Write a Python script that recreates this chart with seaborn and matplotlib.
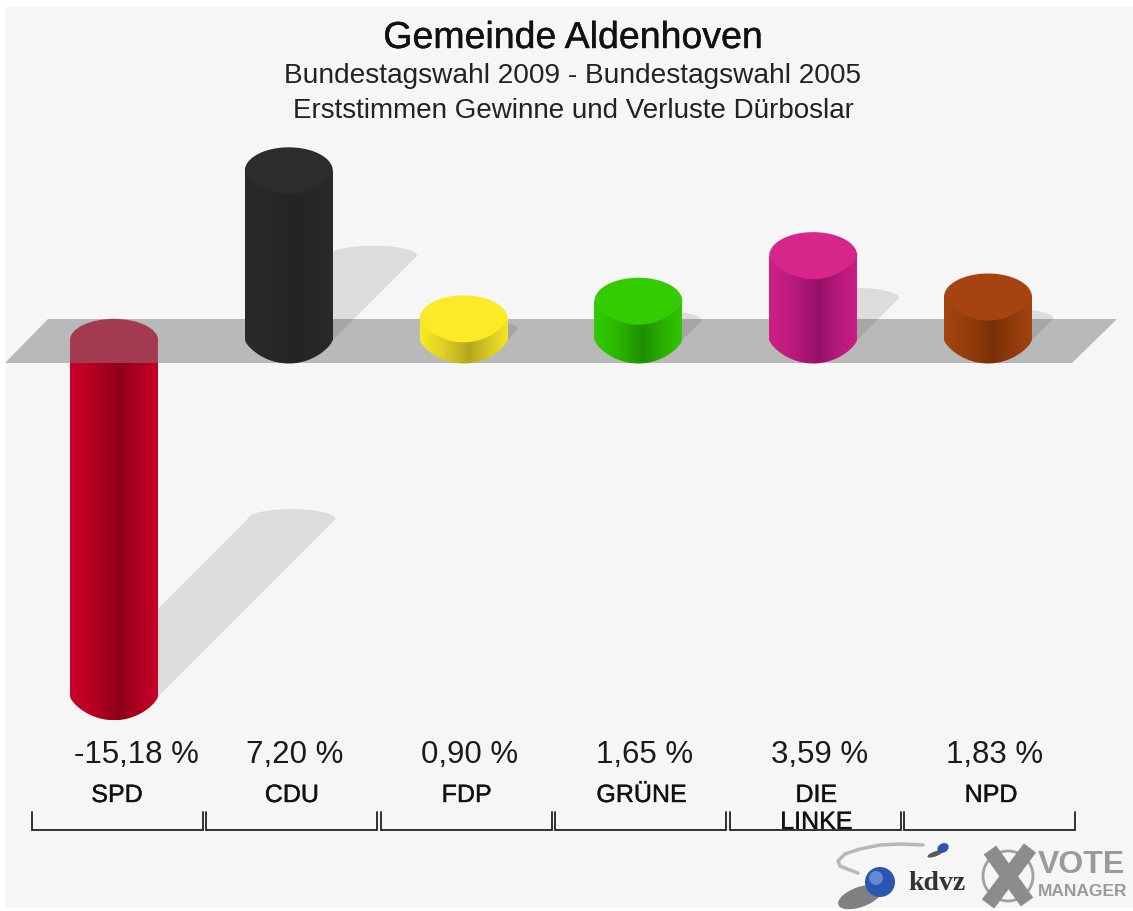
import numpy as np
import pandas as pd
import matplotlib
matplotlib.use('Agg')
import matplotlib.pyplot as plt
import matplotlib.patheffects as pe
from matplotlib.patches import Polygon, Ellipse, Rectangle, Circle
import seaborn as sns

parties = ['SPD', 'CDU', 'FDP', 'GRÜNE', 'DIE LINKE', 'NPD']
party_labels = ['SPD', 'CDU', 'FDP', 'GRÜNE', 'DIE\nLINKE', 'NPD']
values = [-15.18, 7.20, 0.90, 1.65, 3.59, 1.83]
value_labels = ['-15,18 %', '7,20 %', '0,90 %', '1,65 %', '3,59 %', '1,83 %']
label_offset = [22, 6, 6, 6, 6, 7]
cap_colors = ['#cc0028', '#2c2c2c', '#fbea28', '#33cc00', '#d6268c', '#a54410']
edge_colors = ['#cc0028', '#2a2a2a', '#f7ea28', '#33cc00', '#cf2088', '#a54410']
dark_colors = ['#8e0018', '#242424', '#b5a61c', '#1e9000', '#961068', '#7a3008']

W, H = 1133, 911
X0, STEP = 114.0, 174.8  # px of first bar, px per category
Y0, K = 340.0, 23.5  # px of zero line, px per percent
BAR_W = 88 / STEP
CAP = 1.0  # half height of the ellipse, in percent units


def px_x(p):
    return (p - X0) / STEP


def px_y(p):
    return (Y0 - p) / K


def gradient(edge, dark):
    pos = np.array([0, 0.25, 0.56, 0.8, 1])
    e = np.array(matplotlib.colors.to_rgb(edge))
    d = np.array(matplotlib.colors.to_rgb(dark))
    mix = np.array([0.0, 0.35, 1.0, 0.45, 0.08])
    t = np.linspace(0, 1, 200)
    m = np.interp(t, pos, mix)[:, None]
    return (e * (1 - m) + d * m)[None, :, :]


def lower_arc(center):
    # front edge of the cylinder, a bit more pointed than an ellipse
    u = np.linspace(-1, 1, 60)
    return np.column_stack([center + BAR_W / 2 * u, -CAP * (1 - u ** 2) ** 0.75])


sns.set_theme(style='white')
plt.rcParams['font.family'] = ['Liberation Sans', 'DejaVu Sans']
heavy = [pe.withStroke(linewidth=0.3, foreground='#222222')]

fig = plt.figure(figsize=(W / 100, H / 100), dpi=100, facecolor='white')
fig.patches.append(Rectangle((5 / W, 1 - 908 / H), 1 - 5 / W, (908 - 7) / H, transform=fig.transFigure,
                             facecolor='#f6f6f6', edgecolor='none', zorder=-10))
ax = fig.add_axes([0, 0, 1, 1])

df = pd.DataFrame({'party': parties, 'value': values})
sns.barplot(data=df, x='party', y='value', hue='party', palette=cap_colors, order=parties,
            hue_order=parties, width=BAR_W, saturation=1, legend=False, ax=ax)
for i, bar in enumerate(ax.patches):
    bar.set_zorder(1 if values[i] < 0 else 3)
    bar.set_edgecolor('none')

# grey floor, see-through so the top of the negative bar shows
floor = Polygon([(px_x(5), px_y(363)), (px_x(48), px_y(319)), (px_x(1117), px_y(319)), (px_x(1072), px_y(363))],
                facecolor='#7a7a7a', alpha=0.49, edgecolor='none', zorder=2)
ax.add_patch(floor)

t = np.linspace(0, np.pi, 40)
for i, v in enumerate(values):
    left, right = i - BAR_W / 2, i + BAR_W / 2

    # shadow goes up to the right, half as long as the bar
    y0 = 0 if v > 0 else v
    L = abs(v)
    dx, dy = L * 11.7 / STEP, L * 0.498
    arc = np.column_stack([i + dx + BAR_W / 2 * np.cos(t), y0 + dy + 0.43 * np.sin(t)])
    shadow = np.vstack([[(right, y0)], arc, [(left, y0)]])
    ax.add_patch(Polygon(shadow, facecolor='black', alpha=0.1, edgecolor='none', zorder=2.5))

    # cylinder body with a dark stripe
    low = lower_arc(i)
    if v > 0:
        body = np.vstack([low, [(right, v), (left, v)]])
        ymin, ymax = -CAP, v
    else:
        top = px_y(363)
        body = np.vstack([[(left, top), (right, top)], (low + [0, v])[::-1]])
        ymin, ymax = v - CAP, top
    im = ax.imshow(gradient(edge_colors[i], dark_colors[i]), extent=(left, right, ymin, ymax),
                   aspect='auto', zorder=3, interpolation='bilinear')
    im.set_clip_path(Polygon(body, transform=ax.transData))

    # flat top of the cylinder
    upper = np.column_stack([i + BAR_W / 2 * np.cos(t), CAP * np.sin(t)])
    if v > 0:
        cap = np.vstack([upper + [0, v], low + [0, v]])
        ax.add_patch(Polygon(cap, facecolor=cap_colors[i], edgecolor='none', zorder=4))
    else:
        ax.add_patch(Ellipse((i, 0), BAR_W, 2 * CAP * 0.9, facecolor=cap_colors[i], edgecolor='none', zorder=1))

    # labels and bracket
    ax.text(i + label_offset[i] / STEP, px_y(755), value_labels[i], ha='center', va='center',
            fontsize=22.5, color='#1a1a1a')
    lab_x = i + 3 / STEP
    if '\n' in party_labels[i]:
        first, second = party_labels[i].split('\n')
        ax.text(lab_x, px_y(795), first, ha='center', va='center', fontsize=18, color='#111111', path_effects=heavy)
        ax.text(lab_x, px_y(822), second, ha='center', va='center', fontsize=18, color='#111111', path_effects=heavy)
    else:
        ax.text(lab_x, px_y(795), party_labels[i], ha='center', va='center', fontsize=18, color='#111111', path_effects=heavy)
    bx0 = px_x(32 + 174.4 * i)
    bx1 = px_x(203 + 174.4 * i)
    ax.plot([bx0, bx0, bx1, bx1], [px_y(812), px_y(830), px_y(830), px_y(812)],
            color='#222222', lw=1.3, solid_joinstyle='miter', zorder=5)

ax.set_xlim(px_x(0), px_x(W))
ax.set_ylim(px_y(H), px_y(0))
ax.axis('off')

# titles and logo in pixel coordinates
over = fig.add_axes([0, 0, 1, 1], facecolor='none')
over.set_xlim(0, W)
over.set_ylim(H, 0)
over.axis('off')
over.text(573, 38, 'Gemeinde Aldenhoven', ha='center', va='center', fontsize=27, color='#111111',
          path_effects=heavy)
over.text(573, 76, 'Bundestagswahl 2009 - Bundestagswahl 2005', ha='center', va='center', fontsize=20.2, color='#222222')
over.text(573, 111, 'Erststimmen Gewinne und Verluste Dürboslar', ha='center', va='center', fontsize=20, color='#222222')

over.plot([923, 900, 880, 860, 845, 838, 840, 850, 858], [845, 844, 845, 849, 854, 861, 866, 870, 873],
          color='#b8b8b8', lw=2.5)
over.add_patch(Ellipse((860, 897), 46, 20, angle=-20, facecolor='#333333', edgecolor='none', alpha=0.6))
over.add_patch(Circle((880, 882), 15, facecolor='#2a55b0', edgecolor='none'))
over.add_patch(Circle((876, 878), 7, facecolor='#7f9fdc', edgecolor='none', alpha=0.7))
over.add_patch(Ellipse((935, 854), 16, 5, angle=-20, facecolor='#333333', edgecolor='none', alpha=0.8))
over.add_patch(Ellipse((943, 848), 12, 9, angle=-30, facecolor='#2a55b0', edgecolor='none'))
over.text(937, 883, 'kdvz', ha='center', va='center', fontsize=20, family='Liberation Serif', weight='bold', color='#333333')
over.add_patch(Circle((1008, 876), 25, facecolor='none', edgecolor='#a0a0a0', lw=2))
over.plot([990, 1027], [850, 902], color='#8c8c8c', lw=11, solid_capstyle='butt')
over.plot([1030, 988], [848, 904], color='#8c8c8c', lw=11, solid_capstyle='butt')
over.text(1038, 865, 'VOTE', ha='left', va='center', fontsize=23, weight='bold', color='#9a9a9a')
over.text(1038, 892, 'MANAGER', ha='left', va='center', fontsize=12.5, weight='bold', color='#9a9a9a')

fig.savefig('out.png', dpi=100, facecolor=fig.get_facecolor())
